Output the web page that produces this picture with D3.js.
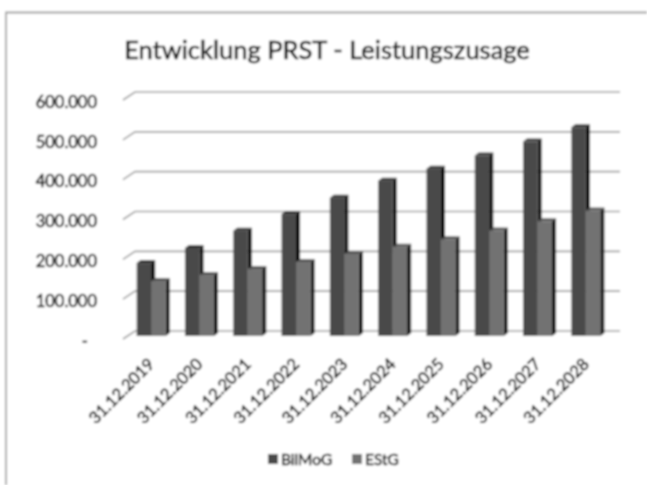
<!DOCTYPE html>
<html>
<head>
<meta charset="utf-8">
<script src="https://cdn.jsdelivr.net/npm/d3@7"></script>
<style>
html, body { margin: 0; padding: 0; background: #fff; }
text { font-family: Lato, sans-serif; fill: #111; stroke: #111; stroke-width: 0.55; }
</style>
</head>
<body>
<div id="chart"></div>
<script>
var categories = ["31.12.2019", "31.12.2020", "31.12.2021", "31.12.2022", "31.12.2023",
    "31.12.2024", "31.12.2025", "31.12.2026", "31.12.2027", "31.12.2028"];
var bilmog = [183000, 221000, 264000, 306000, 347000, 390000, 420000, 453000, 488000, 524000];
var estg = [138000, 153000, 168000, 186000, 206000, 224000, 243000, 265000, 288000, 315000];
var yTicks = [0, 100000, 200000, 300000, 400000, 500000, 600000];
var seriesNames = ["BilMoG", "EStG"];
var seriesData = [bilmog, estg];

var width = 647, height = 485;
var frontColors = ["#4a4a4a", "#727272"];
var sideColors = ["#000000", "#0c0c0c"];
var topColors = ["#333333", "#585858"];

var svg = d3.select("#chart").append("svg")
    .attr("width", width)
    .attr("height", height)
    .style("display", "block");

// the reference is a soft low resolution scan
var blur = svg.append("defs").append("filter")
    .attr("id", "soft")
    .attr("x", 0).attr("y", 0).attr("width", 1).attr("height", 1);
blur.append("feGaussianBlur").attr("stdDeviation", 0.85);

var root = svg.append("g").attr("filter", "url(#soft)");
root.append("rect").attr("width", width).attr("height", height).attr("fill", "#fff");

// outer frame, only top and left are visible
root.append("path")
    .attr("d", "M6,485V12.5H647")
    .attr("fill", "none")
    .attr("stroke", "#a0a0a0")
    .attr("stroke-width", 1.8);

root.append("text")
    .attr("x", 327).attr("y", 59)
    .attr("text-anchor", "middle")
    .attr("font-size", 25.5)
    .text("Entwicklung PRST - Leistungszusage");

// front edge of the floor
var yFront = d3.scaleLinear().domain([0, 600000]).range([339, 100]);
// plane the bars stand in
var yBar = d3.scaleLinear().domain([0, 600000]).range([336, 97]);
var x = d3.scaleBand().domain(categories).range([127, 610]).paddingInner(0.4).paddingOuter(0.2);
var xSeries = d3.scaleBand().domain(seriesNames).range([0, x.bandwidth()]);
var depth = 12, depthY = 8;

var grid = root.append("g");
grid.selectAll("path")
    .data(yTicks)
    .enter()
    .append("path")
    .attr("d", function(t) {
        var y0 = yFront(t);
        return "M123," + y0 + "L" + (123 + depth) + "," + (y0 - depthY) + "H620";
    })
    .attr("fill", "none")
    .attr("stroke", "#a0a0a0")
    .attr("stroke-width", 1.7);

var yAxis = d3.axisLeft(yFront)
    .tickValues(yTicks)
    .tickSize(0)
    .tickPadding(26)
    .tickFormat(function(t) {
        return t == 0 ? "-" : d3.format(",")(t).replace(/,/g, ".");
    });
var axisG = root.append("g").attr("transform", "translate(123,2)").call(yAxis);
axisG.select(".domain").remove();
axisG.selectAll("text").attr("font-size", 16.5);
// the dash for zero sits further left than the numbers
axisG.selectAll("text").filter(function(t) { return t == 0; }).attr("dx", -9);

// bars
var barDepth = 4, barLift = 3;
seriesNames.forEach(function(name, s) {
    var g = root.append("g");
    var bars = g.selectAll("g")
        .data(seriesData[s])
        .enter()
        .append("g")
        .attr("transform", function(d, i) {
            return "translate(" + (x(categories[i]) + xSeries(name)) + ",0)";
        });
    var w = xSeries.bandwidth();
    bars.append("path")
        .attr("fill", sideColors[s])
        .attr("d", function(d) {
            return "M" + w + "," + yBar(d) + "l" + barDepth + "," + (-barLift) +
                "V" + (yBar(0) - barLift) + "l" + (-barDepth) + "," + barLift + "Z";
        });
    bars.append("path")
        .attr("fill", topColors[s])
        .attr("d", function(d) {
            return "M0," + yBar(d) + "l" + barDepth + "," + (-barLift) +
                "h" + w + "l" + (-barDepth) + "," + barLift + "Z";
        });
    bars.append("rect")
        .attr("fill", frontColors[s])
        .attr("y", function(d) { return yBar(d); })
        .attr("width", w)
        .attr("height", function(d) { return yBar(0) - yBar(d); });
});

// rotated date labels
var xAxis = d3.axisBottom(x).tickSize(0).tickPadding(0);
var xG = root.append("g").attr("transform", "translate(-4,357)").call(xAxis);
xG.select(".domain").remove();
xG.selectAll("text")
    .attr("font-size", 16.5)
    .attr("text-anchor", "end")
    .attr("dy", "0.7em")
    .attr("transform", "rotate(-45)");

// legend
var legendX = d3.scaleOrdinal().domain(seriesNames).range([268, 352]);
var legend = root.selectAll(".legend")
    .data(seriesNames)
    .enter()
    .append("g")
    .attr("class", "legend")
    .attr("transform", function(d) { return "translate(" + legendX(d) + ",454)"; });
legend.append("rect")
    .attr("width", 10).attr("height", 10)
    .attr("fill", function(d, i) { return frontColors[i]; });
legend.append("text")
    .attr("x", 13).attr("y", 11)
    .attr("font-size", 15.5)
    .text(function(d) { return d; });
</script>
</body>
</html>
